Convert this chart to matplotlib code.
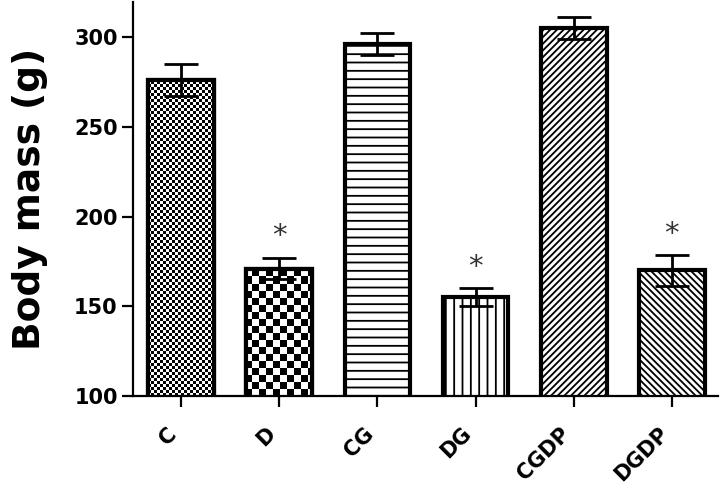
import numpy as np
import matplotlib
matplotlib.use("Agg")
import matplotlib.pyplot as plt

# values
groups = ["C", "D", "CG", "DG", "CGDP", "DGDP"]
means = [276, 171, 296, 155, 305, 170]
sem = [9, 6, 6, 5, 6, 8.5]
signif = [False, True, False, True, False, True]
hatches = [None, None, "--", "||", "/////", "\\\\\\\\\\"]
checker_px = [3, 7, 0, 0, 0, 0]   # checkerboard cell size in pixels (0 = none)
yticks = [100, 150, 200, 250, 300]

plt.rcParams["hatch.linewidth"] = 1.3
plt.rcParams["font.family"] = ["DejaVu Sans"]

W, H = 726, 498
fig = plt.figure(figsize=(W / 100, H / 100), dpi=100)
ax = fig.add_axes([133 / W, 1 - 396 / H, 585 / W, 394 / H])

x = np.arange(len(groups))
ax.set_xlim(-0.49, 5.47)
ax.set_ylim(100, 319.5)

bars = ax.bar(x, means, width=0.67, facecolor="white", edgecolor="black",
              linewidth=3, zorder=2)
for b, h in zip(bars, hatches):
    if h:
        b.set_hatch(h)

# checkerboard fills (C, D) drawn as clipped images
ax_w, ax_h = 585, 394
for b, cell in zip(bars, checker_px):
    if not cell:
        continue
    nx, ny = ax_w // cell, ax_h // cell
    board = (np.add.outer(np.arange(ny), np.arange(nx)) % 2).astype(float)
    xl, yl = ax.get_xlim(), ax.get_ylim()
    im = ax.imshow(board, cmap="gray", interpolation="nearest", aspect="auto",
                   extent=[xl[0], xl[0] + nx * cell * (xl[1] - xl[0]) / ax_w,
                           yl[0], yl[0] + ny * cell * (yl[1] - yl[0]) / ax_h],
                   origin="lower", zorder=2.2)
    im.set_clip_path(b)
    ax.bar(b.get_x() + b.get_width() / 2, b.get_height(), width=b.get_width(),
           fill=False, edgecolor="black", linewidth=3, zorder=2.5)
ax.set_xlim(-0.49, 5.47)
ax.set_ylim(100, 319.5)

ax.errorbar(x, means, yerr=sem, fmt="none", ecolor="black", elinewidth=2,
            capsize=12.5, capthick=2, zorder=4)

for xi, m, e, s in zip(x, means, sem, signif):
    if s:
        ax.text(xi, m + e + 12, "*", ha="center", va="center",
                fontsize=21, color="#333333")

for side in ["top", "right"]:
    ax.spines[side].set_visible(False)
for side in ["left", "bottom"]:
    ax.spines[side].set_linewidth(1.6)

ax.set_yticks(yticks)
ax.set_xticks(x)
ax.set_xticklabels(groups, rotation=45, ha="right", fontweight="bold", fontsize=15)
ax.tick_params(axis="x", length=8, width=1.6, pad=12)
ax.tick_params(axis="y", length=8, width=1.6, pad=3, labelsize=15)
for lab in ax.get_yticklabels():
    lab.set_fontweight("bold")

ax.set_ylabel("Body mass (g)", fontsize=27, fontweight="bold")
ax.yaxis.set_label_coords(-0.145, 0.5)

fig.savefig("out.png", dpi=100)
